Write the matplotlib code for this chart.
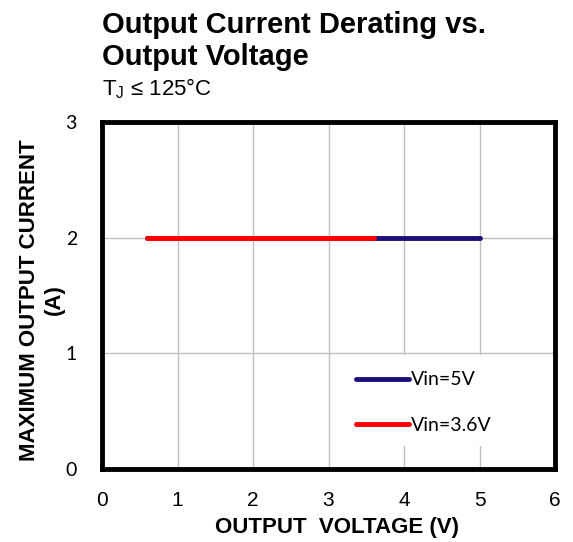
import matplotlib
matplotlib.use("Agg")
import matplotlib.pyplot as plt
from matplotlib.patches import Rectangle

vout_5 = [0.6, 5.0]
iout_5 = [2.0, 2.0]
vout_36 = [0.6, 3.6]
iout_36 = [2.0, 2.0]
xticks = [0, 1, 2, 3, 4, 5, 6]
yticks = [0, 1, 2, 3]

fig = plt.figure(figsize=(5.73, 5.42), dpi=100)
ax = fig.add_axes([102/573, 1-469/542, (555-102)/573, (469-122)/542])

ax.plot(vout_5, iout_5, color="#1a0f7a", lw=3.5, solid_capstyle="round", label="Vin=5V", zorder=3)
ax.plot(vout_36, iout_36, color="#ff0000", lw=3.5, solid_capstyle="round", label="Vin=3.6V", zorder=4)

ax.set_xlim(0, 6)
ax.set_ylim(0, 3)
ax.set_xticks(xticks)
ax.set_yticks(yticks)
ax.grid(True, color="#c0c0c0", lw=1)
ax.set_axisbelow(True)
ax.tick_params(axis="x", length=0, pad=16)
ax.tick_params(axis="y", length=0, pad=18)
for lab in ax.get_xticklabels():
    lab.set_fontfamily("Liberation Sans")
    lab.set_fontsize(15)
for lab in ax.get_yticklabels():
    lab.set_fontfamily("Lato")
    lab.set_fontsize(14)
for s in ax.spines.values():
    s.set_linewidth(3.5)
    s.set_color("black")

# legend background box
ax.add_patch(Rectangle((0.506, 0.066), 0.49, 0.263, transform=ax.transAxes,
                       facecolor="white", edgecolor="none", zorder=2.5))

ax.set_xlabel("OUTPUT  VOLTAGE (V)", fontfamily="Liberation Sans", fontweight="bold", fontsize=16)
ax.xaxis.set_label_coords((337-102)/453, -(528-469)/347)
ax.xaxis.label.set_va("center")
fig.text(30/573, 1-300/542, "MAXIMUM OUTPUT CURRENT", rotation=90, ha="center", va="center",
         fontfamily="Liberation Sans", fontweight="bold", fontsize=16)
fig.text(54/573, 1-300/542, "(A)", rotation=90, ha="center", va="center",
         fontfamily="Liberation Sans", fontweight="bold", fontsize=16)

leg = ax.legend(loc="upper left", bbox_to_anchor=(0.561, 0.281), frameon=False,
                handlelength=2.7, handletextpad=0.1, labelspacing=1.46, borderpad=0,
                borderaxespad=0, prop={"family": "Lato", "size": 14})
leg.set_zorder(5)

fig.text(102/573, 1-33/542, "Output Current Derating vs.", fontfamily="Liberation Sans",
         fontweight="bold", fontsize=21, ha="left", va="baseline")
fig.text(102/573, 1-65/542, "Output Voltage", fontfamily="Liberation Sans",
         fontweight="bold", fontsize=21, ha="left", va="baseline")
fig.text(102/573, 1-95/542, r"T$_\mathregular{J}$ ≤ 125°C", fontfamily="Liberation Sans",
         fontsize=16, ha="left", va="baseline")

fig.savefig("out.png", dpi=100)
